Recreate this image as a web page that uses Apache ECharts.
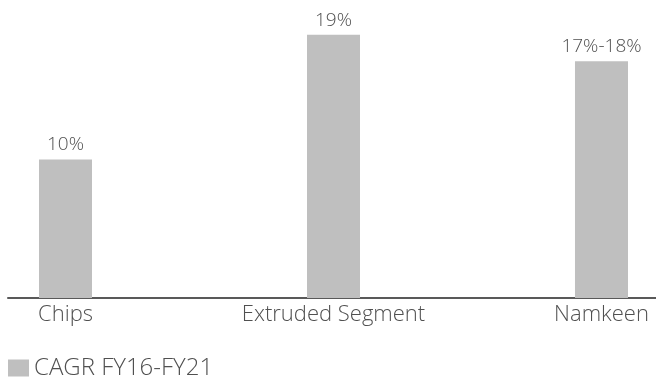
<!DOCTYPE html>
<html>
<head>
<meta charset="utf-8">
<script src="https://cdn.jsdelivr.net/npm/echarts@6/dist/echarts.min.js"></script>
<style>
  html, body { margin: 0; padding: 0; background: #fff; }
  #chart { width: 656px; height: 382px; }
</style>
</head>
<body>
<div id="chart"></div>
<script>
var categories = ['Chips', 'Extruded Segment', 'Namkeen'];
var cagrValues = [10, 19, 17.1];
var cagrLabels = ['10%', '19%', '17%-18%'];
var seriesName = 'CAGR FY16-FY21';

var chart = echarts.init(document.getElementById('chart'));

var textColor = '#505050';
var fontFamily = '"Open Sans", "Noto Sans", sans-serif';

// bars sit on category index positions of a value axis
var barData = cagrValues.map(function(v, i) {
    return [i, v];
});
var catIndex = categories.map(function(c, i) {
    return i;
});

var option = {
    animation: false,
    textStyle: { fontFamily: fontFamily },
    legend: {
        data: [seriesName],
        left: 3,
        top: 351,
        icon: 'rect',
        itemWidth: 21,
        itemHeight: 17,
        itemGap: 10,
        textStyle: { fontSize: 24, fontWeight: 300, color: textColor, fontFamily: fontFamily }
    },
    grid: { left: 8, right: 0, top: 21, bottom: 84 },
    xAxis: {
        type: 'value',
        min: -0.2146,
        max: 2.2034,
        splitLine: { show: false },
        axisLine: { show: true, lineStyle: { color: '#595959', width: 2 } },
        axisTick: { show: false },
        axisLabel: {
            customValues: catIndex,
            fontSize: 22,
            fontWeight: 300,
            color: textColor,
            margin: 6,
            fontFamily: fontFamily,
            formatter: function(v) {
                return categories[Math.round(v)];
            }
        }
    },
    yAxis: {
        type: 'value',
        min: 0,
        max: 20,
        show: false
    },
    series: [{
        name: seriesName,
        type: 'bar',
        data: barData,
        barWidth: 53,
        itemStyle: { color: '#bfbfbf' },
        label: {
            show: true,
            position: 'top',
            distance: 5,
            fontSize: 19,
            fontWeight: 300,
            color: textColor,
            fontFamily: fontFamily,
            formatter: function(p) {
                return cagrLabels[p.dataIndex];
            }
        }
    }]
};

chart.setOption(option);
</script>
</body>
</html>
